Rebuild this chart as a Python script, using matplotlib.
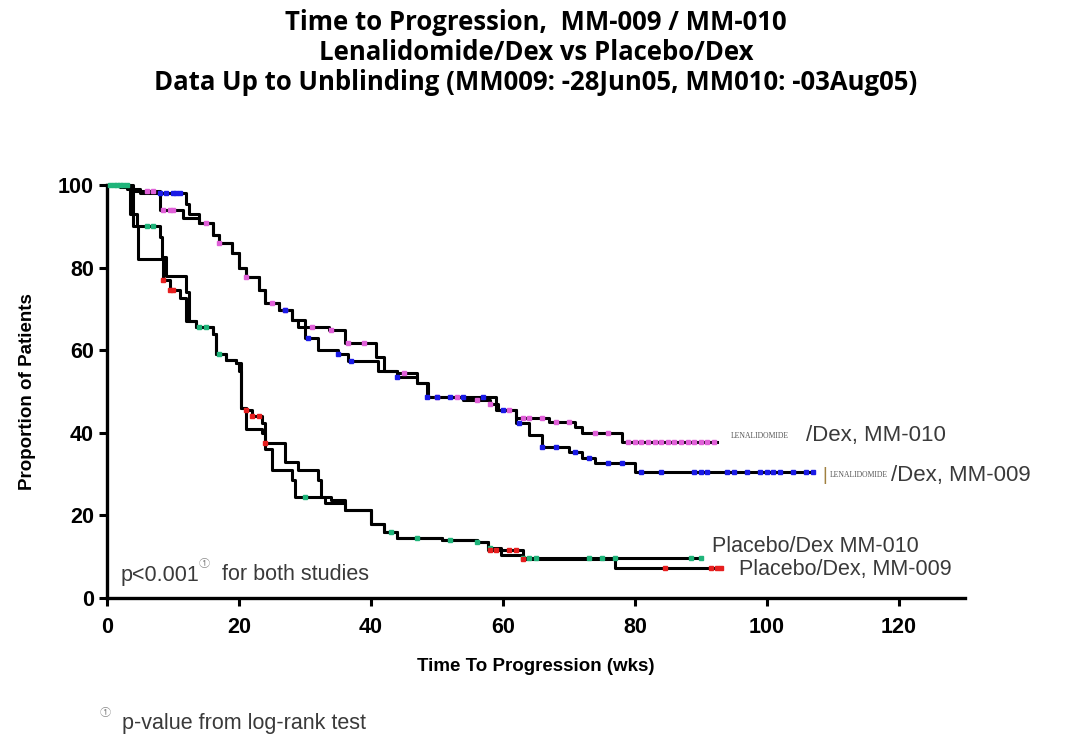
import numpy as np
import matplotlib
matplotlib.use("Agg")
import matplotlib.pyplot as plt

plt.rcParams['font.family'] = ['Liberation Sans', 'DejaVu Sans']

# Kaplan-Meier steps (weeks, % progression-free)
len009_t = [0, 3, 5, 12, 12.5, 14, 16, 17, 19, 20, 21, 23, 24, 26, 28, 30, 32, 35, 36.5,
            41, 44, 47, 48.5, 59, 62, 64, 66, 70, 72, 74, 80]
len009_s = [100, 99, 98, 95.5, 93, 90.8, 88, 86, 83.5, 80, 77.7, 74.5, 71.4, 69.7, 67.3,
            63, 60, 59, 57.5, 55, 53.5, 52, 48.7, 45.5, 42.4, 39.5, 36.6, 35.4, 34, 32.7, 30.5]
len009_end = 107
len009_cens = [8, 9, 10, 10.5, 11, 27, 30.5, 35, 37, 44, 48.5, 50, 52, 54, 57, 60, 62.5,
               66, 68, 71, 73, 76, 78, 81, 84, 89, 90, 91, 94, 95, 97, 99, 100, 101, 102, 104, 106, 107]

len010_t = [0, 2, 4, 8, 11.5, 14, 16, 17, 19, 20, 21, 23, 24, 26, 28, 29, 33.6, 36, 40.7,
            42, 44, 47, 48.7, 54, 58, 59.3, 62, 67, 71, 72, 78]
len010_s = [100, 99.5, 98.5, 94, 92, 90.8, 88, 86, 83.5, 80, 77.7, 74.5, 71.4, 69.7, 67.3,
            65.6, 65, 61.7, 58.4, 55, 54.5, 52, 48.7, 48, 47, 45.5, 43.5, 42.5, 41.4, 40, 37.8]
len010_end = 92.5
len010_cens = [6, 7, 8.5, 9.5, 10, 15, 17, 21, 25, 27, 31, 34, 36.5, 39, 45, 50, 53, 56,
               58, 61, 63, 64, 66, 68, 70, 74, 76, 79, 80, 81, 82, 83, 84, 85, 86, 87, 88, 89, 90, 91, 92]

pla009_t = [0, 4, 4.7, 8.5, 9.5, 11, 12, 13.5, 16, 16.5, 18, 19.6, 20.3, 21, 22, 23.5, 24,
            27, 29, 32, 32.5, 34, 36, 40, 42, 44, 50.7, 56, 57.8, 63, 77]
pla009_s = [100, 90, 82, 77, 74.5, 72.6, 67, 65.6, 64, 59, 57.6, 57, 46, 45.5, 44, 42.4, 37.5,
            33, 31, 28.6, 24.5, 23.7, 21.3, 18, 16, 14.5, 14, 13.6, 11.6, 9.5, 7.3]
pla009_end = 93
pla009_cens = [8.5, 9.5, 10, 21, 22, 23, 24, 58, 59, 61, 62, 63, 84.5, 91.5, 92.5, 93]

pla010_t = [0, 3.5, 4.5, 8, 8.3, 9, 12, 12.5, 13.5, 16, 16.5, 18, 19.6, 20, 20.3, 21, 23.5,
            24, 25, 28, 28.5, 33, 36, 40, 42, 44, 50.7, 56, 57.8, 59.7, 63]
pla010_s = [100, 93, 90, 87.5, 82.5, 78, 74, 67, 65.6, 64, 59, 57.6, 57, 55, 46, 41, 40,
            36, 31, 28.6, 24.5, 23, 21.3, 18, 16, 14.5, 14, 13.6, 12, 10.5, 9.7]
pla010_end = 90
pla010_cens = [0.5, 1, 1.5, 2, 2.5, 3, 6, 7, 14, 15, 17, 30, 43, 47, 52, 56, 58, 63, 64, 65,
               73, 75, 77, 88.5, 90]

series = [
    (len010_t, len010_s, len010_end, len010_cens, '#e060d8'),
    (len009_t, len009_s, len009_end, len009_cens, '#1a1ae6'),
    (pla010_t, pla010_s, pla010_end, pla010_cens, '#1fb47a'),
    (pla009_t, pla009_s, pla009_end, pla009_cens, '#e61e1e'),
]

fig = plt.figure(figsize=(10.72, 7.5), dpi=100)
ax = fig.add_axes([0.0998, 0.2027, 0.8002, 0.5506])

for t, s, end, cens, col in series:
    tt = list(t) + [end]
    ss = list(s) + [s[-1]]
    ax.step(tt, ss, where='post', color='black', lw=2.2, clip_on=False, zorder=3)
    c = np.array(cens)
    idx = np.searchsorted(np.array(t), c, side='right') - 1
    ax.plot(c, np.array(s)[idx], 's', color=col, ms=3.4, mec=col, clip_on=False, zorder=4)

ax.set_xlim(0, 130)
ax.set_ylim(0, 100)
ax.set_xticks([0, 20, 40, 60, 80, 100, 120])
ax.set_yticks([0, 20, 40, 60, 80, 100])
for sp in ['top', 'right']:
    ax.spines[sp].set_visible(False)
for sp in ['left', 'bottom']:
    ax.spines[sp].set_linewidth(2.4)
ax.tick_params(width=2.2, length=6, labelsize=15.5, direction='out')
ax.tick_params(axis='x', pad=8)
for lab in ax.get_xticklabels() + ax.get_yticklabels():
    lab.set_fontweight('bold')
ax.set_xlabel('Time To Progression (wks)', fontsize=13.5, fontweight='bold', labelpad=14)
ax.set_ylabel('Proportion of Patients', fontsize=13.5, fontweight='bold', labelpad=16)

# title
title_lines = ['Time to Progression,  MM-009 / MM-010',
               'Lenalidomide/Dex vs Placebo/Dex',
               'Data Up to Unblinding (MM009: -28Jun05, MM010: -03Aug05)']
for i, line in enumerate(title_lines):
    fig.text(0.5, 1 - (23 + 30 * i) / 750, line, ha='center', va='center',
             fontsize=18.5, fontweight='bold', family=['Open Sans', 'DejaVu Sans'])

grey = '#3a3a3a'
# curve labels
fig.text(731 / 1072, 1 - 436 / 750, 'LENALIDOMIDE', fontsize=5.5, family='Liberation Serif',
         color='#555555', va='center')
fig.text(806 / 1072, 1 - 436 / 750, '/Dex, MM-010', fontsize=16, color=grey, va='center')
fig.text(822 / 1072, 1 - 475 / 750, '|', fontsize=13, color='#a08040', va='center')
fig.text(830 / 1072, 1 - 475 / 750, 'LENALIDOMIDE', fontsize=5.5, family='Liberation Serif',
         color='#555555', va='center')
fig.text(891 / 1072, 1 - 475 / 750, '/Dex, MM-009', fontsize=16, color=grey, va='center')
fig.text(712 / 1072, 1 - 547 / 750, 'Placebo/Dex MM-010', fontsize=15.5, color=grey, va='center')
fig.text(739 / 1072, 1 - 569 / 750, 'Placebo/Dex, MM-009', fontsize=15.5, color=grey, va='center')

# p-value note
fig.text(121 / 1072, 1 - 575 / 750, 'p<0.001', fontsize=15.5, color=grey, va='center')
fig.text(199 / 1072, 1 - 564 / 750, '\u2460', fontsize=8, color='#888888', va='center',
         family=['Noto Sans CJK SC', 'DejaVu Sans'])
fig.text(222 / 1072, 1 - 575 / 750, 'for both studies', fontsize=15.5, color=grey, va='center')

fig.text(100 / 1072, 1 - 713 / 750, '\u2460', fontsize=8, color='#888888', va='center',
         family=['Noto Sans CJK SC', 'DejaVu Sans'])
fig.text(122 / 1072, 1 - 723 / 750, 'p-value from log-rank test', fontsize=15.5, color=grey, va='center')

fig.savefig('out.png', dpi=100)
